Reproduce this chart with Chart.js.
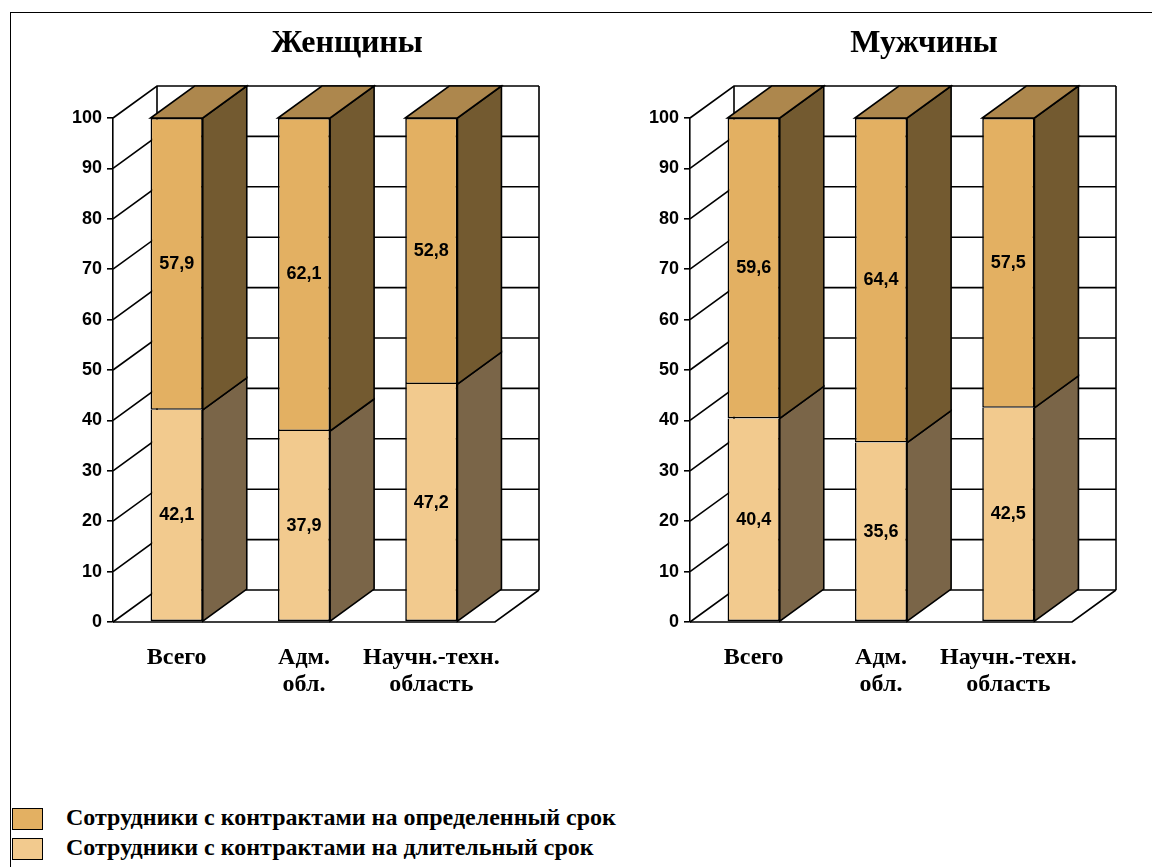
<!DOCTYPE html>
<html><head><meta charset="utf-8">
<script src="https://cdn.jsdelivr.net/npm/chart.js@4/dist/chart.umd.min.js"></script>
<style>
html,body{margin:0;padding:0;background:#fff;width:1152px;height:867px;overflow:hidden;position:relative;}
#frame{position:absolute;left:10px;top:12px;width:1200px;height:900px;border-left:1.5px solid #000;border-top:1.5px solid #000;box-sizing:border-box;}
.panel{position:absolute;top:0;width:576px;height:760px;}
.title{position:absolute;top:25px;width:400px;text-align:center;font:bold 32px/32px "Liberation Serif","Times New Roman",serif;color:#000;}
.sw{position:absolute;left:12px;width:31px;height:22px;border:1.5px solid #000;box-sizing:border-box;}
.lt{position:absolute;left:66px;white-space:nowrap;font:bold 24px/24px "Liberation Serif","Times New Roman",serif;color:#000;}
</style></head>
<body>
<div id="frame"></div>
<div class="panel" style="left:0"><canvas id="c1" width="576" height="760"></canvas></div>
<div class="panel" style="left:577px"><canvas id="c2" width="576" height="760"></canvas></div>
<div class="title" id="t1" style="left:147px"></div>
<div class="title" id="t2" style="left:724px"></div>
<div id="legend"></div>
<script>
// ---- data ----
const panelTitles = ["Женщины", "Мужчины"];
const categories = [["Всего"], ["Адм.", "обл."], ["Научн.-техн.", "область"]];
const seriesNames = ["Сотрудники с контрактами на определенный срок", "Сотрудники с контрактами на длительный срок"];
const womenFixedTerm = [57.9, 62.1, 52.8];
const womenLongTerm = [42.1, 37.9, 47.2];
const menFixedTerm = [59.6, 64.4, 57.5];
const menLongTerm = [40.4, 35.6, 42.5];
const yMin = 0, yMax = 100, yStep = 10;

// ---- style ----
const FRONT_FIXED = '#E3B062', SIDE_FIXED = '#735A30', TOP_FIXED = '#AD874D';
const FRONT_LONG = '#F2CA8E', SIDE_LONG = '#7A6548';
const DX = 44, DY = 32, LW = 1.6;

const threeD = {
  id: 'threeD',
  beforeDatasetsDraw(chart) {
    const {ctx, chartArea: {left, right, top, bottom}, scales: {y}} = chart;
    ctx.save();
    ctx.strokeStyle = '#000'; ctx.lineWidth = LW; ctx.lineJoin = 'miter';
    y.ticks.forEach(t => {
      const py = y.getPixelForValue(t.value);
      ctx.beginPath();
      ctx.moveTo(left, py); ctx.lineTo(left + DX, py - DY); ctx.lineTo(right + DX, py - DY);
      ctx.stroke();
    });
    ctx.beginPath();
    ctx.moveTo(left + DX, top - DY); ctx.lineTo(left + DX, bottom - DY);
    ctx.moveTo(right + DX, top - DY); ctx.lineTo(right + DX, bottom - DY);
    ctx.moveTo(left, bottom); ctx.lineTo(right, bottom); ctx.lineTo(right + DX, bottom - DY);
    ctx.stroke();
    ctx.restore();
  },
  afterDatasetsDraw(chart) {
    const {ctx} = chart;
    const n = chart.data.datasets.length;
    ctx.save();
    ctx.strokeStyle = '#000'; ctx.lineWidth = LW; ctx.lineJoin = 'miter';
    chart.data.datasets.forEach((ds, di) => {
      const meta = chart.getDatasetMeta(di);
      meta.data.forEach((el, i) => {
        const {x, y, base, width} = el.getProps(['x', 'y', 'base', 'width'], true);
        const xl = x - width / 2, xr = x + width / 2;
        ctx.fillStyle = ds.sideColor;
        ctx.beginPath();
        ctx.moveTo(xr, y); ctx.lineTo(xr + DX, y - DY); ctx.lineTo(xr + DX, base - DY); ctx.lineTo(xr, base); ctx.closePath();
        ctx.fill(); ctx.stroke();
        if (di === n - 1) {
          ctx.fillStyle = ds.topColor;
          ctx.beginPath();
          ctx.moveTo(xl, y); ctx.lineTo(xr, y); ctx.lineTo(xr + DX, y - DY); ctx.lineTo(xl + DX, y - DY); ctx.closePath();
          ctx.fill(); ctx.stroke();
        }
      });
    });
    ctx.fillStyle = '#000';
    ctx.font = 'bold 18px "Liberation Sans", Arial, sans-serif';
    ctx.textAlign = 'center'; ctx.textBaseline = 'middle';
    chart.data.datasets.forEach((ds, di) => {
      const meta = chart.getDatasetMeta(di);
      meta.data.forEach((el, i) => {
        const {x, y, base} = el.getProps(['x', 'y', 'base'], true);
        ctx.fillText(ds.data[i].toFixed(1).replace('.', ','), x, (y + base) / 2);
      });
    });
    ctx.restore();
  }
};

function makeChart(id, longTerm, fixedTerm) {
  return new Chart(document.getElementById(id), {
    type: 'bar',
    data: {
      labels: categories,
      datasets: [
        {label: seriesNames[1], data: longTerm, backgroundColor: FRONT_LONG, sideColor: SIDE_LONG,
         borderColor: '#000', borderWidth: LW, borderSkipped: 'top', barPercentage: 0.41, categoryPercentage: 1},
        {label: seriesNames[0], data: fixedTerm, backgroundColor: FRONT_FIXED, sideColor: SIDE_FIXED, topColor: TOP_FIXED,
         borderColor: '#000', borderWidth: LW, borderSkipped: false, barPercentage: 0.41, categoryPercentage: 1}
      ]
    },
    options: {
      responsive: false, animation: false, devicePixelRatio: 1,
      layout: {padding: {top: 118, right: 81, left: 0, bottom: 0}},
      plugins: {legend: {display: false}, tooltip: {enabled: false}, title: {display: false}},
      scales: {
        x: {stacked: true, grid: {display: false}, border: {display: false},
            ticks: {color: '#000', autoSkip: false, maxRotation: 0, padding: 14,
                    font: {family: '"Liberation Serif", "Times New Roman", serif', weight: 'bold', size: 24, lineHeight: 1.12}},
            afterFit(s) { s.height = 138; }},
        y: {stacked: true, min: yMin, max: yMax,
            ticks: {stepSize: yStep, color: '#000', padding: 5,
                    font: {family: '"Liberation Sans", Arial, sans-serif', weight: 'bold', size: 18}},
            grid: {display: true, drawOnChartArea: false, drawTicks: true, tickLength: 6, color: '#000', lineWidth: LW},
            border: {display: true, color: '#000', width: LW},
            afterFit(s) { s.width = 113; }}
      }
    },
    plugins: [threeD]
  });
}

makeChart('c1', womenLongTerm, womenFixedTerm);
makeChart('c2', menLongTerm, menFixedTerm);
document.getElementById('t1').textContent = panelTitles[0];
document.getElementById('t2').textContent = panelTitles[1];

const legColors = [FRONT_FIXED, FRONT_LONG];
const legTops = [805, 835];
const legend = document.getElementById('legend');
seriesNames.forEach((name, i) => {
  const sw = document.createElement('div');
  sw.className = 'sw'; sw.style.top = (legTops[i] + 3) + 'px'; sw.style.background = legColors[i];
  const tx = document.createElement('div');
  tx.className = 'lt'; tx.style.top = legTops[i] + 'px'; tx.textContent = name;
  legend.appendChild(sw); legend.appendChild(tx);
});
</script>
</body></html>
